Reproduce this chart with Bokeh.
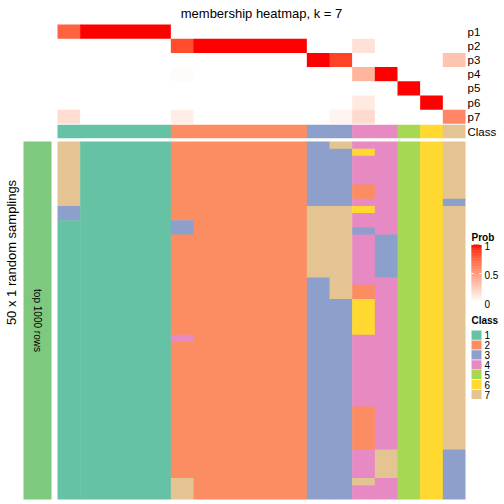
import numpy as np
from bokeh.plotting import figure
from bokeh.models import Range1d, ColumnDataSource
from bokeh.transform import linear_cmap, factor_cmap
from bokeh.embed import file_html
from bokeh.resources import INLINE
from bokeh.core.properties import value

# ---------------- data ----------------
title_text = "membership heatmap, k = 7"
prob_names = ["p1", "p2", "p3", "p4", "p5", "p6", "p7"]
class_labels = ["1", "2", "3", "4", "5", "6", "7"]
class_colors = ["#66C2A5", "#FC8D62", "#8DA0CB", "#E78AC3", "#A6D854", "#FFD92F", "#E5C494"]
n_samples = 18

# membership probabilities per sample (18 samples)
p1 = [0.77, 1, 1, 1, 1, 0, 0, 0, 0, 0, 0, 0, 0, 0, 0, 0, 0, 0]
p2 = [0, 0, 0, 0, 0, 0.85, 1, 1, 1, 1, 1, 0, 0, 0.16, 0, 0, 0, 0]
p3 = [0, 0, 0, 0, 0, 0, 0, 0, 0, 0, 0, 1, 0.88, 0, 0, 0, 0, 0.31]
p4 = [0, 0, 0, 0, 0, 0.02, 0, 0, 0, 0, 0, 0, 0, 0.39, 1, 0, 0, 0]
p5 = [0, 0, 0, 0, 0, 0, 0, 0, 0, 0, 0, 0, 0, 0, 0, 1, 0, 0]
p6 = [0, 0, 0, 0, 0, 0, 0, 0, 0, 0, 0, 0, 0, 0.11, 0, 0, 1, 0]
p7 = [0.18, 0, 0, 0, 0, 0.09, 0, 0, 0, 0, 0, 0, 0.06, 0.19, 0, 0, 0, 0.61]
prob_table = [p1, p2, p3, p4, p5, p6, p7]

# final class of each sample
sample_class = ["1", "1", "1", "1", "1", "2", "2", "2", "2", "2", "2",
                "3", "3", "4", "4", "5", "6", "7"]

# class in each of the 50 random samplings (one string per sample, 50 rows each)
samplings = [
    "7" * 9 + "3" * 2 + "1" * 39,
    "1" * 50,
    "1" * 50,
    "1" * 50,
    "1" * 50,
    "2" * 11 + "3" * 2 + "2" * 14 + "4" + "2" * 19 + "7" * 3,
    "2" * 50,
    "2" * 50,
    "2" * 50,
    "2" * 50,
    "2" * 50,
    "3" * 9 + "7" * 10 + "3" * 31,
    "7" + "3" * 8 + "7" * 13 + "3" * 28,
    "4" + "6" + "4" * 4 + "2" * 2 + "4" + "6" + "4" * 2 + "3" + "4" * 7 + "2" * 2
    + "6" * 5 + "4" * 10 + "2" * 6 + "4" * 4 + "7" + "4" * 2,
    "4" * 13 + "3" * 6 + "4" * 24 + "7" * 4 + "4" * 3,
    "5" * 50,
    "6" * 50,
    "7" * 8 + "3" + "7" * 34 + "3" * 7,
]
n_samplings = 50
left_label = "50 x 1 random samplings"
group_label = "top 1000 rows"
legend_ticks = [0, 0.5, 1]
legend_tick_labels = ["0", "0.5", "1"]


# ---------------- colour ramp white -> red in LAB ----------------
def srgb_to_lab(rgb):
    c = np.array(rgb, dtype=float)
    lin = np.where(c <= 0.04045, c / 12.92, ((c + 0.055) / 1.055) ** 2.4)
    M = np.array([[0.4124, 0.3576, 0.1805], [0.2126, 0.7152, 0.0722], [0.0193, 0.1192, 0.9505]])
    xyz = M @ lin / np.array([0.95047, 1.0, 1.08883])
    f = np.where(xyz > 0.008856, np.cbrt(xyz), 7.787 * xyz + 16 / 116)
    return np.array([116 * f[1] - 16, 500 * (f[0] - f[1]), 200 * (f[1] - f[2])])


def lab_to_hex(lab):
    L, a, b = lab
    fy = (L + 16) / 116
    fx = fy + a / 500
    fz = fy - b / 200
    f = np.array([fx, fy, fz])
    xyz = np.where(f ** 3 > 0.008856, f ** 3, (f - 16 / 116) / 7.787) * np.array([0.95047, 1.0, 1.08883])
    Minv = np.array([[3.2406, -1.5372, -0.4986], [-0.9689, 1.8758, 0.0415], [0.0557, -0.2040, 1.0570]])
    lin = np.clip(Minv @ xyz, 0, 1)
    c = np.where(lin <= 0.0031308, 12.92 * lin, 1.055 * lin ** (1 / 2.4) - 0.055)
    c = np.clip(np.round(c * 255), 0, 255).astype(int)
    return "#%02X%02X%02X" % tuple(c)


white_lab = srgb_to_lab([1, 1, 1])
red_lab = srgb_to_lab([1, 0, 0])
prob_palette = [lab_to_hex(white_lab + (red_lab - white_lab) * t) for t in np.linspace(0, 1, 256)]


# merge equal neighbouring cells of a grid[col][row] into blocks (no seams)
def merge_blocks(grid):
    blocks = []      # [col0, col1, row0, row1, value]
    open_ = {}
    for j, col in enumerate(grid):
        runs = []
        i0 = 0
        for i in range(1, len(col) + 1):
            if i == len(col) or col[i] != col[i0]:
                runs.append((i0, i, col[i0]))
                i0 = i
        new_open = {}
        for r in runs:
            if r in open_:
                b = open_[r]
                b[1] = j + 1
            else:
                b = [j, j + 1, r[0], r[1], r[2]]
                blocks.append(b)
            new_open[r] = b
        open_ = new_open
    return blocks


# ---------------- layout (pixel units) ----------------
SIZE = 500
X0, X1 = 57.0, 465.0
CW = (X1 - X0) / n_samples
PY0, PH = 24.0, 14.19
CY0, CY1 = 124.3, 137.7
HY0, HY1 = 141.0, 499.0
RH = (HY1 - HY0) / n_samplings
OV = 0.5  # small overlap so adjacent blocks leave no seams

p = figure(width=SIZE, height=SIZE, x_range=Range1d(0, SIZE), y_range=Range1d(SIZE, 0),
           output_backend="svg", toolbar_location=None, min_border=0,
           x_axis_location=None, y_axis_location=None)
p.grid.visible = False
p.outline_line_color = None
p.background_fill_color = "white"
p.border_fill_color = "white"

FONT = value("Liberation Sans")
pmap = linear_cmap("prob", prob_palette, 0, 1)
cmap = factor_cmap("cls", class_colors, class_labels)

# probability annotation (grid[col][row])
prob_grid = [[prob_table[k][j] for k in range(7)] for j in range(n_samples)]
pb_ = merge_blocks(prob_grid)
p.quad(left="left", right="right", top="top", bottom="bottom",
       source=ColumnDataSource(dict(
           left=[X0 + b[0] * CW for b in pb_],
           right=[X0 + b[1] * CW + (OV if b[1] < n_samples else 0) for b in pb_],
           top=[PY0 + b[2] * PH for b in pb_],
           bottom=[PY0 + b[3] * PH + (OV if b[3] < 7 else 0) for b in pb_],
           prob=[b[4] for b in pb_])),
       fill_color=pmap, line_color=None)

# class annotation
cb_ = merge_blocks([[c] for c in sample_class])
p.quad(left="left", right="right", top="top", bottom="bottom",
       source=ColumnDataSource(dict(
           left=[X0 + b[0] * CW for b in cb_],
           right=[X0 + b[1] * CW + (OV if b[1] < n_samples else 0) for b in cb_],
           top=[CY0] * len(cb_), bottom=[CY1] * len(cb_),
           cls=[b[4] for b in cb_])),
       fill_color=cmap, line_color=None)

# main heatmap
hb_ = merge_blocks([list(s) for s in samplings])
p.quad(left="left", right="right", top="top", bottom="bottom",
       source=ColumnDataSource(dict(
           left=[X0 + b[0] * CW for b in hb_],
           right=[X0 + b[1] * CW + (OV if b[1] < n_samples else 0) for b in hb_],
           top=[HY0 + b[2] * RH for b in hb_],
           bottom=[HY0 + b[3] * RH + (OV if b[3] < n_samplings else 0) for b in hb_],
           cls=[b[4] for b in hb_])),
       fill_color=cmap, line_color=None)

# left group bar
p.quad(left=[23], right=[51], top=[HY0], bottom=[HY1], fill_color="#7FC97F", line_color=None)

# texts
p.text(x=[(X0 + X1) / 2], y=[13], text=[title_text], text_align="center", text_baseline="middle",
       text_font=FONT, text_font_size="13px", text_color="black")
p.text(x=[X1 + 2] * 8, y=[PY0 + (k + 0.5) * PH for k in range(7)] + [(CY0 + CY1) / 2],
       text=prob_names + ["Class"], text_align="left", text_baseline="middle",
       text_font=FONT, text_font_size="11.5px", text_color="black")
p.text(x=[10.5], y=[252], text=[left_label], angle=np.pi / 2, text_align="center",
       text_baseline="middle", text_font=FONT, text_font_size="13px", text_color="black")
p.text(x=[37], y=[(HY0 + HY1) / 2], text=[group_label], angle=-np.pi / 2, text_align="center",
       text_baseline="middle", text_font=FONT, text_font_size="10px", text_color="black")

# legend: Prob colour bar
LX0, LX1 = 471.0, 481.0
BY0, BY1 = 244.0, 302.0
p.text(x=[LX0], y=[236.5], text=["Prob"], text_align="left", text_baseline="middle",
       text_font=FONT, text_font_size="10px", text_font_style="bold", text_color="black")
nsl = 80
vals = np.linspace(0, 1, nsl)
sh = (BY1 - BY0) / nsl
p.quad(left=LX0, right=LX1, top="top", bottom="bottom",
       source=ColumnDataSource(dict(top=[BY1 - (i + 1) * sh for i in range(nsl)],
                                    bottom=[BY1 - i * sh + (OV if i > 0 else 0) for i in range(nsl)],
                                    prob=list(vals))),
       fill_color=pmap, line_color=None)
ty = [BY1 - (BY1 - BY0) * t for t in legend_ticks]
p.segment(x0=[LX0] * 3, x1=[LX0 + 2] * 3, y0=ty, y1=ty, line_color="white", line_width=1)
p.segment(x0=[LX1 - 2] * 3, x1=[LX1] * 3, y0=ty, y1=ty, line_color="white", line_width=1)
p.text(x=[LX1 + 3] * 3, y=[y + 1 for y in ty], text=legend_tick_labels, text_align="left",
       text_baseline="middle", text_font=FONT, text_font_size="10px", text_color="black")

# legend: Class
p.text(x=[LX0], y=[320], text=["Class"], text_align="left", text_baseline="middle",
       text_font=FONT, text_font_size="10px", text_font_style="bold", text_color="black")
GY0, GS = 330.0, 9.9
p.quad(left=LX0, right=LX1, top=[GY0 + i * GS for i in range(7)],
       bottom=[GY0 + i * GS + 9.2 for i in range(7)],
       fill_color=class_colors, line_color=None)
p.text(x=[LX1 + 3] * 7, y=[GY0 + i * GS + 4.6 for i in range(7)], text=class_labels,
       text_align="left", text_baseline="middle", text_font=FONT, text_font_size="10px",
       text_color="black")

open("out.html", "w").write(file_html(p, INLINE))
